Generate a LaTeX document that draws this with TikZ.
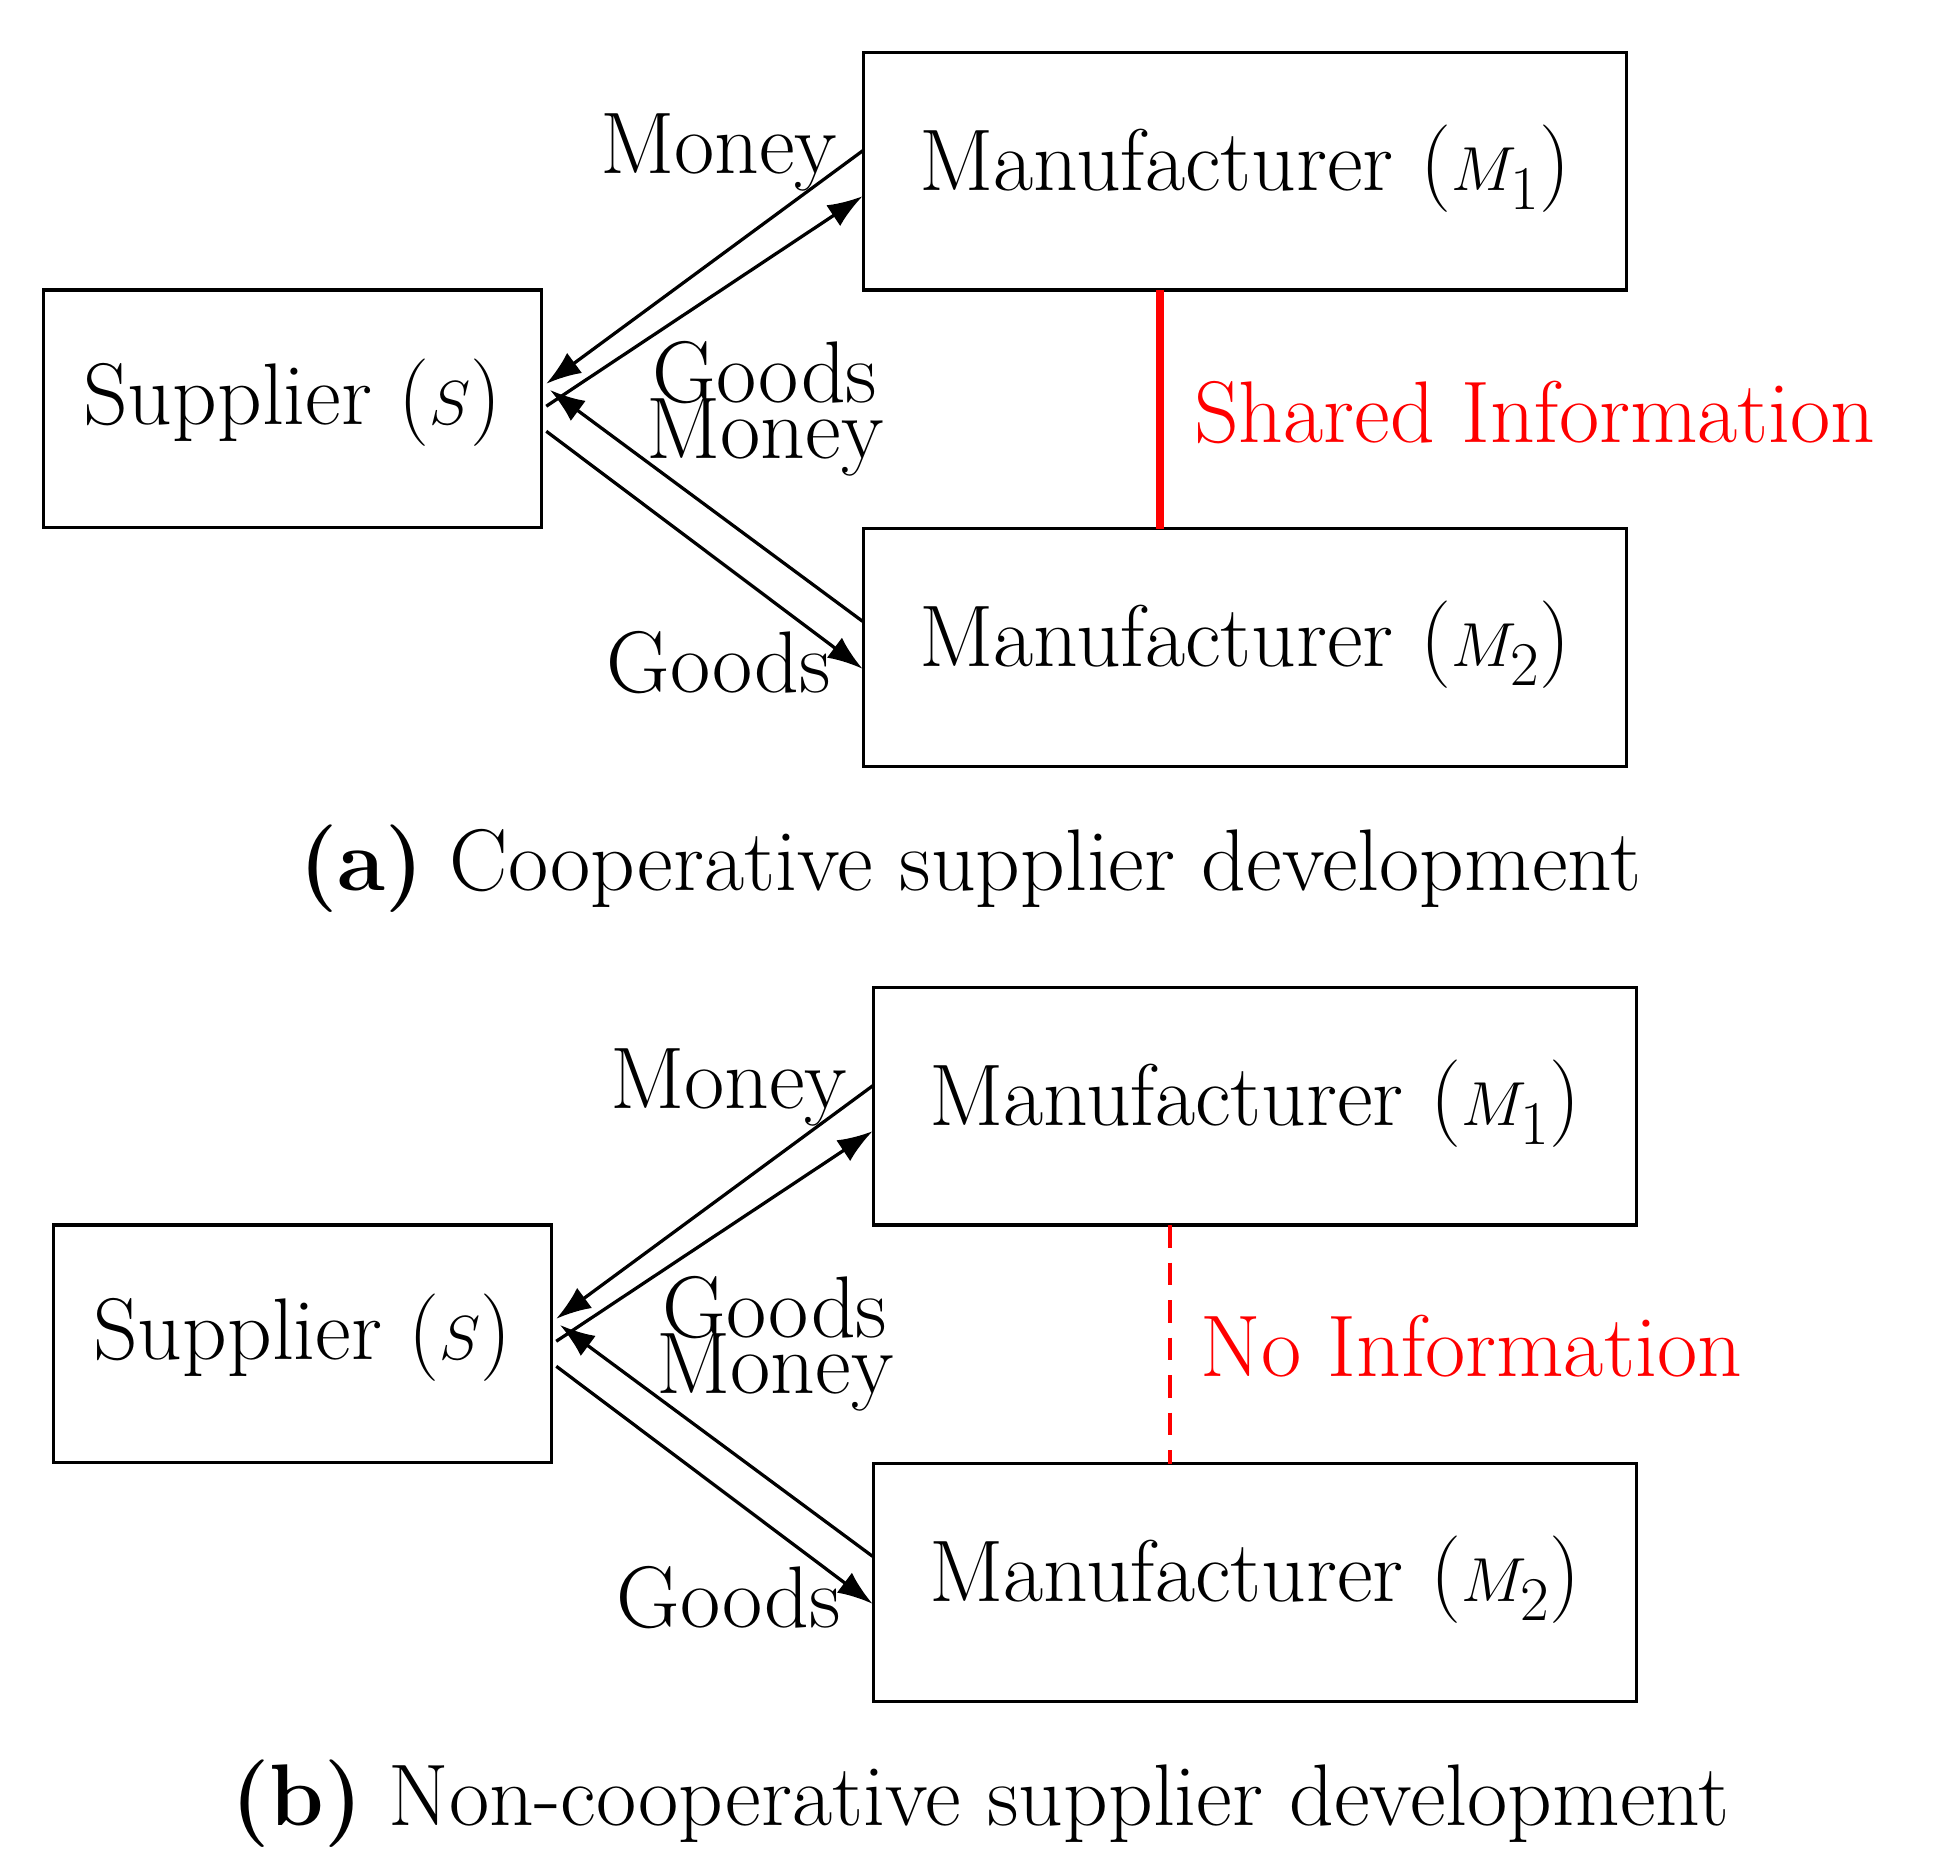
\documentclass[tikz,border=0pt]{standalone}
\usetikzlibrary{arrows.meta}
\begin{document}
\begin{tikzpicture}[x=0.5pt,y=-0.5pt,
  box/.style={draw,line width=1.3pt},
  flow/.style={line width=1.3pt,-{Latex[length=14pt,width=10pt]}},
  txt/.style={font=\fontsize{35}{40}\selectfont,inner sep=0pt}]
\useasboundingbox (0,0) rectangle (1556,1493);
\foreach \dx/\dy/\p in {0/0/a,8/748/b}{
\begin{scope}[shift={(\dx,\dy)}]
\draw[box] (35,232) rectangle (433,422);
\draw[box] (691,42) rectangle (1301,232);
\draw[box] (691,423) rectangle (1301,613);
\node[txt] (S\p) at (234,322) {Supplier ($S$)};
\node[txt] (Ma\p) at (996,135) {Manufacturer ($M_1$)};
\node[txt] (Mb\p) at (996,516) {Manufacturer ($M_2$)};
\coordinate (m1a\p) at (691,120); \coordinate (s1\p) at (437,307);
\coordinate (s2\p) at (437,325); \coordinate (m1b\p) at (690,157);
\coordinate (m2a\p) at (690,497); \coordinate (s3\p) at (440,312);
\coordinate (s4\p) at (437,345); \coordinate (m2b\p) at (690,535);
\draw[flow] (m1a\p) -- (s1\p);
\draw[flow] (s2\p) -- (m1b\p);
\draw[flow] (m2a\p) -- (s3\p);
\draw[flow] (s4\p) -- (m2b\p);
\node[txt] at (575,122) {Money};
\node[txt] at (612,298) {Goods};
\node[txt] at (612,350) {Money};
\node[txt] at (575,530) {Goods};
\end{scope}}
\coordinate (ta) at (928,232); \coordinate (tb) at (928,423);
\draw[red,line width=3.5pt] (ta) -- (tb);
\node[txt,red,anchor=west] at (955,330) {Shared Information};
\coordinate (tc) at (936,980); \coordinate (td) at (936,1171);
\draw[red,line width=1.3pt,dash pattern=on 9pt off 6pt] (tc) -- (td);
\node[txt,red,anchor=west] at (960,1077) {No Information};
\node[txt] at (776,695) {\textbf{(a)} Cooperative supplier development};
\node[txt] at (784,1443) {\textbf{(b)} Non-cooperative supplier development};
\end{tikzpicture}
\end{document}
